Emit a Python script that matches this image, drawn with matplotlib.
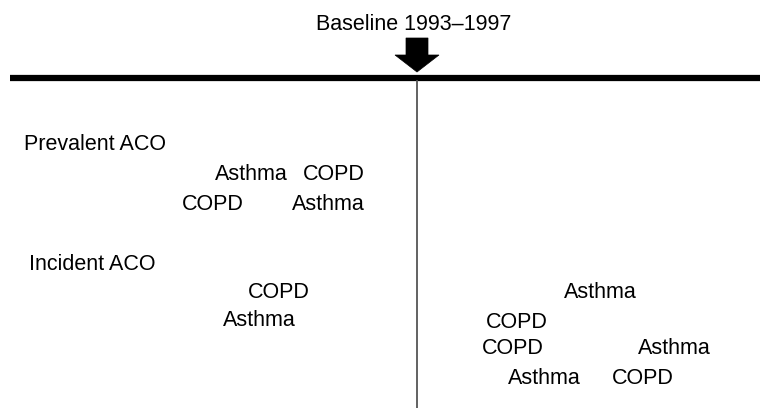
import matplotlib
matplotlib.use("Agg")
import matplotlib.pyplot as plt
from matplotlib.patches import Polygon

plt.rcParams['font.family'] = ['Liberation Sans', 'DejaVu Sans']

# Diagram content
title = "Baseline 1993–1997"
group_labels = ["Prevalent ACO", "Incident ACO"]
group_x = [24, 29]
group_y = [143, 262]

word_labels = ["Asthma", "COPD", "COPD", "Asthma",
               "COPD", "Asthma",
               "Asthma", "COPD", "COPD", "Asthma", "Asthma", "COPD"]
word_x = [251, 334, 213, 328,
          279, 259,
          600, 517, 513, 674, 544, 643]
word_y = [173, 173, 202, 202,
          290, 319,
          290, 320, 347, 347, 376, 376]

W, H = 760, 408
fig = plt.figure(figsize=(W / 100, H / 100), dpi=100)
ax = fig.add_axes([0, 0, 1, 1])
ax.set_xlim(0, W)
ax.set_ylim(H, 0)
ax.axis('off')

FS = 15.5
DY = 2
# timeline
ax.plot([10, W], [78, 78], color='black', lw=4.5, solid_capstyle='butt')
ax.plot([417, 417], [81, H], color='#555555', lw=1.3)

# arrow
arrow = Polygon([(406, 38), (428, 38), (428, 55), (439, 55), (417, 72),
                 (395, 55), (406, 55)], closed=True, facecolor='black',
                edgecolor='black', lw=0.5)
ax.add_patch(arrow)
ax.text(414, 22 + DY, title, fontsize=FS, ha='center', va='center')

for lab, x, y in zip(group_labels, group_x, group_y):
    ax.text(x, y + DY, lab, fontsize=FS, ha='left', va='center')
for lab, x, y in zip(word_labels, word_x, word_y):
    ax.text(x, y + DY, lab, fontsize=FS, ha='center', va='center')

fig.savefig("out.png", dpi=100)
